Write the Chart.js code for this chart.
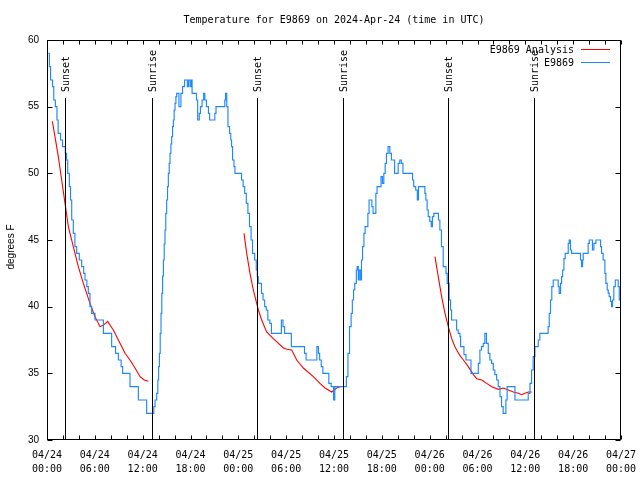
<!DOCTYPE html>
<html>
<head>
<meta charset="utf-8">
<script src="https://cdn.jsdelivr.net/npm/chart.js@4/dist/chart.umd.min.js"></script>
<style>
  body { margin: 0; background: #fff; }
  #wrap { width: 640px; height: 480px; }
</style>
</head>
<body>
<div id="wrap"><canvas id="tempChart" width="640" height="480"></canvas></div>
<script>
/* DATA (hours since 04/24 00:00 UTC, degrees F) */
const stationHours = [
  0.17, 0.30, 0.45, 0.70, 0.85, 1.05, 1.25, 1.40, 1.70, 1.95, 2.30, 2.45, 2.60, 2.80, 2.95,
  3.10, 3.30, 3.50, 3.72, 4.05, 4.35, 4.60, 4.77, 5.00, 5.18, 5.39, 5.60, 6.02, 7.07, 8.11,
  8.60, 8.95, 9.30, 9.49, 10.41, 11.46, 12.50, 13.40, 13.55, 13.76, 13.90, 14.00, 14.10, 14.20, 14.30,
  14.40, 14.50, 14.60, 14.70, 14.80, 14.90, 15.01, 15.12, 15.22, 15.33, 15.43, 15.54, 15.64, 15.75, 15.85,
  15.95, 16.06, 16.17, 16.27, 16.55, 16.80, 17.00, 17.25, 17.60, 17.75, 17.95, 18.10, 18.20, 18.75, 18.90,
  19.10, 19.25, 19.45, 19.65, 19.80, 20.00, 20.25, 20.40, 21.05, 21.20, 22.30, 22.40, 22.55, 22.70, 22.90,
  23.05, 23.15, 23.28, 23.45, 23.58, 24.40, 24.60, 24.80, 25.00, 25.20, 25.40, 25.60, 25.78, 26.05, 26.25,
  26.38, 26.50, 26.90, 27.10, 27.30, 27.50, 27.70, 27.95, 28.15, 29.40, 29.60, 29.80, 30.65, 32.30, 32.50,
  33.85, 34.05, 34.20, 34.40, 34.60, 35.35, 35.65, 35.95, 36.10, 37.55, 37.75, 37.95, 38.15, 38.30, 38.45,
  38.60, 38.80, 38.90, 39.05, 39.17, 39.34, 39.45, 39.58, 39.75, 39.90, 40.25, 40.40, 40.75, 40.90, 41.25,
  41.40, 41.90, 42.08, 42.25, 42.42, 42.58, 42.78, 43.00, 43.20, 43.60, 44.05, 44.25, 44.45, 44.65, 45.85,
  46.00, 46.25, 46.45, 46.60, 47.40, 47.52, 47.68, 47.82, 48.02, 48.20, 48.35, 48.52, 49.10, 49.28, 49.48,
  49.70, 50.05, 50.20, 50.45, 50.62, 50.75, 51.38, 51.58, 51.80, 51.88, 52.30, 52.55, 53.18, 54.10, 54.30,
  54.50, 54.72, 54.92, 55.12, 55.35, 55.55, 55.77, 55.98, 56.18, 56.40, 56.60, 56.82, 57.02, 57.22, 57.56,
  57.72, 58.70, 60.36, 60.58, 60.78, 60.98, 61.20, 61.62, 61.82, 62.86, 63.00, 63.16, 63.32, 63.50, 64.12,
  64.25, 64.42, 64.55, 64.68, 64.84, 65.00, 65.38, 65.50, 65.66, 65.80, 66.92, 67.05, 67.18, 67.26, 67.88,
  68.02, 68.42, 68.60, 68.85, 69.44, 69.56, 69.76, 69.98, 70.10, 70.27, 70.40, 70.52, 70.68, 70.82, 70.94,
  71.10, 71.28, 71.65, 71.78, 71.96
];
const stationTemps = [
  59, 58, 57, 56.5, 55.5, 55, 54, 53, 52.5, 52, 51.5, 51, 50, 49, 48,
  46.5, 45.5, 44.5, 44, 43.5, 43, 42.5, 42, 41.5, 41, 40, 39.5, 39, 38, 37,
  36.5, 36, 35.5, 35, 34, 33, 32, 32.5, 33, 33.5, 34.5, 35.5, 36.5, 38, 39.5,
  41, 42.3, 43.5, 44.7, 45.75, 47, 48, 49, 50, 50.75, 51.5, 52.2, 52.75, 53.5, 54,
  54.75, 55.25, 55.75, 56, 55, 56, 56.5, 57, 56.5, 57, 56.5, 57, 56, 55.5, 54,
  54.5, 55, 55.5, 56, 55.5, 55, 54.5, 54, 54.5, 55, 55.5, 56, 55, 53.5, 53,
  52.5, 52, 51, 50.5, 50, 49.5, 49, 48.5, 47.75, 47, 46, 45, 44, 43.5, 42.75,
  42.25, 41.75, 41, 40.5, 40, 39.75, 39, 38.75, 38, 39, 38.5, 38, 37, 36.5, 36,
  37, 36.5, 36, 35.5, 35, 34.25, 34, 33, 34, 34.75, 36.5, 38.5, 39.5, 40.5, 41.25,
  41.75, 42.75, 43, 42, 42.75, 42, 43.5, 44.5, 45.5, 46, 47, 48, 47.5, 47, 48.5,
  49, 49.75, 49.25, 50, 50.75, 51.5, 52, 51.5, 51, 50, 50.75, 51, 50.75, 50, 49.5,
  49, 48.75, 48, 49, 48.5, 48, 47.25, 46.75, 46.4, 46, 46.75, 47, 46.5, 45.75, 44.5,
  43, 42.5, 41.75, 40.5, 39.75, 39, 38.25, 38, 37.75, 37, 36.4, 36, 35, 35.75, 36.75,
  37, 37.25, 38, 37.25, 36.5, 36, 35.75, 35.25, 34.9, 34.5, 34, 33.25, 32.5, 32, 33,
  34, 33, 33.5, 34.25, 35.25, 36.25, 37, 37.5, 38, 38.5, 39.5, 40.5, 41.5, 42, 41.5,
  41, 41.75, 42.25, 42.75, 43.6, 44, 44.75, 45, 44.25, 44, 43.5, 43, 43.5, 44, 44.75,
  45, 44.25, 44.75, 45, 44.5, 44, 43.5, 42.5, 41.75, 41.25, 41, 40.75, 40.4, 40, 40.5,
  41.5, 42, 41.5, 40.5, 40.5
];

// analysis runs, null = gap between nights
const analysisHours = [
  0.67, 1.00, 1.42, 1.84, 2.26, 2.68, 3.30, 3.93, 4.56, 5.39, 6.02, 6.65, 7.07, 7.60, 8.32,
  9.16, 9.79, 10.41, 11.04, 11.67, 12.20, 12.71,
  18.0,
  24.71, 25.05, 25.46, 25.88, 26.51, 26.93, 27.55, 28.39, 29.65, 30.10, 30.69, 31.32, 32.15, 33.41, 34.24,
  34.87, 35.71, 36.34, 36.76,
  42.0,
  48.66, 49.08, 49.50, 49.92, 50.34, 50.76, 51.17, 51.72, 52.23, 52.85, 53.48, 53.90, 54.53, 55.15, 55.78,
  56.62, 57.24, 57.87, 58.50, 59.12, 59.54, 59.96, 60.38, 60.80
];
const analysisTemps = [
  53.9, 52.75, 51.25, 49.5, 47.75, 46, 44.5, 43, 41.75, 40.25, 39.25, 38.5, 38.6, 38.9, 38.25,
  37.25, 36.5, 36, 35.4, 34.75, 34.5, 34.4,
  null,
  45.5, 44, 42.5, 41.25, 39.75, 39, 38.1, 37.6, 36.9, 36.8, 36.75, 36, 35.4, 34.75, 34.25,
  33.9, 33.6, 33.9, 34,
  null,
  43.75, 42.25, 40.75, 39.5, 38.5, 37.6, 37, 36.4, 36, 35.5, 34.9, 34.6, 34.5, 34.25, 34,
  33.8, 33.9, 33.75, 33.6, 33.5, 33.4, 33.5, 33.6, 33.6
];

const sunsetHours = [2.30, 26.38, 50.34];
const sunriseHours = [13.13, 37.07, 61.13];

const xTickLabels = [
  ["04/24", "00:00"], ["04/24", "06:00"], ["04/24", "12:00"], ["04/24", "18:00"],
  ["04/25", "00:00"], ["04/25", "06:00"], ["04/25", "12:00"], ["04/25", "18:00"],
  ["04/26", "00:00"], ["04/26", "06:00"], ["04/26", "12:00"], ["04/26", "18:00"],
  ["04/27", "00:00"]
];
const yTicks = [30, 35, 40, 45, 50, 55, 60];

const MONO = "'DejaVu Sans Mono', monospace";
const SANS = "'Liberation Sans', Arial, sans-serif";

/* DECORATION (gnuplot style frame, inward ticks, sun markers, legend) */
const gnuplotDecor = {
    id: "gnuplotDecor",
    afterDraw(chart) {
        const ctx = chart.ctx;
        const a = chart.chartArea;
        const xs = chart.scales.x;
        const ys = chart.scales.y;
        const L = Math.round(a.left) + 0.5, R = Math.round(a.right) - 0.5;
        const T = Math.round(a.top) + 0.5, B = Math.round(a.bottom) - 0.5;

        ctx.save();
        ctx.strokeStyle = "#000";
        ctx.lineWidth = 1;

        // frame
        ctx.strokeRect(L, T, R - L, B - T);

        // x ticks, bottom and top
        ctx.beginPath();
        for (let h = 0; h <= 72; h += 2) {
            const px = Math.round(xs.getPixelForValue(h)) + 0.5;
            ctx.moveTo(px, B); ctx.lineTo(px, B - 4);
            ctx.moveTo(px, T); ctx.lineTo(px, T + 4);
        }
        // y ticks, left and right
        yTicks.forEach(v => {
            const py = Math.round(ys.getPixelForValue(v)) + 0.5;
            ctx.moveTo(L, py); ctx.lineTo(L + 5, py);
            ctx.moveTo(R, py); ctx.lineTo(R - 5, py);
        });
        ctx.stroke();

        // sunset / sunrise markers
        const lineTop = a.top + (a.bottom - a.top) * 0.145;
        const marks = sunsetHours.map(h => [h, "Sunset"])
            .concat(sunriseHours.map(h => [h, "Sunrise"]));
        ctx.font = "10px " + MONO;
        ctx.fillStyle = "#000";
        marks.forEach(([h, txt]) => {
            const px = Math.round(xs.getPixelForValue(h)) + 0.5;
            ctx.beginPath();
            ctx.moveTo(px, lineTop);
            ctx.lineTo(px, B);
            ctx.stroke();
            ctx.save();
            ctx.translate(px + 1, lineTop - 6);
            ctx.rotate(-Math.PI / 2);
            ctx.textAlign = "left";
            ctx.textBaseline = "middle";
            ctx.fillText(txt, 0, 0);
            ctx.restore();
        });

        // legend, top right inside the frame
        ctx.textAlign = "right";
        ctx.textBaseline = "middle";
        chart.data.datasets.forEach((ds, i) => {
            const y = 50 + i * 13;
            ctx.fillStyle = "#000";
            ctx.fillText(ds.label, 574, y);
            ctx.strokeStyle = ds.borderColor;
            ctx.beginPath();
            ctx.moveTo(581, Math.round(y) - 0.5);
            ctx.lineTo(610, Math.round(y) - 0.5);
            ctx.stroke();
        });

        // title
        ctx.fillStyle = "#000";
        ctx.textAlign = "center";
        ctx.fillText("Temperature for E9869 on 2024-Apr-24 (time in UTC)", (a.left + a.right) / 2, 20);

        // y axis label
        ctx.save();
        ctx.font = "10px " + SANS;
        ctx.translate(11, 247);
        ctx.rotate(-Math.PI / 2);
        ctx.textAlign = "center";
        ctx.textBaseline = "middle";
        ctx.fillText("degrees F", 0, 0);
        ctx.restore();

        ctx.restore();
    }
};

/* CHART */
const tempChart = new Chart(document.getElementById("tempChart"), {
    type: "line",
    data: {
        datasets: [
            {
                label: "E9869 Analysis",
                data: analysisHours.map((h, i) => ({ x: h, y: analysisTemps[i] })),
                borderColor: "#ff0000",
                borderWidth: 1.1,
                pointRadius: 0,
                spanGaps: false,
                order: 1
            },
            {
                label: "E9869",
                data: stationHours.map((h, i) => ({ x: h, y: stationTemps[i] })),
                borderColor: "#1e88ff",
                borderWidth: 1.15,
                pointRadius: 0,
                stepped: "before",
                order: 0
            }
        ]
    },
    options: {
        responsive: false,
        animation: false,
        layout: { padding: { top: 40, right: 19, left: 0, bottom: 0 } },
        plugins: {
            legend: { display: false },
            tooltip: { enabled: false }
        },
        scales: {
            x: {
                type: "linear",
                min: 0,
                max: 72,
                grid: { display: false, drawTicks: false },
                border: { display: false },
                afterFit: s => { s.height = 40; s.paddingLeft = 0; s.paddingRight = 0; },
                ticks: {
                    stepSize: 2,
                    autoSkip: false,
                    maxRotation: 0,
                    padding: 8,
                    color: "#000",
                    font: { family: MONO, size: 10, lineHeight: 1.4 },
                    callback: v => (v % 6 === 0 ? xTickLabels[v / 6] : "")
                }
            },
            y: {
                min: 30,
                max: 60,
                grid: { display: false, drawTicks: false },
                border: { display: false },
                afterFit: s => { s.width = 47; s.paddingTop = 0; s.paddingBottom = 0; },
                ticks: {
                    stepSize: 5,
                    padding: 8,
                    color: "#000",
                    font: { family: SANS, size: 10 }
                }
            }
        }
    },
    plugins: [gnuplotDecor]
});
</script>
</body>
</html>
